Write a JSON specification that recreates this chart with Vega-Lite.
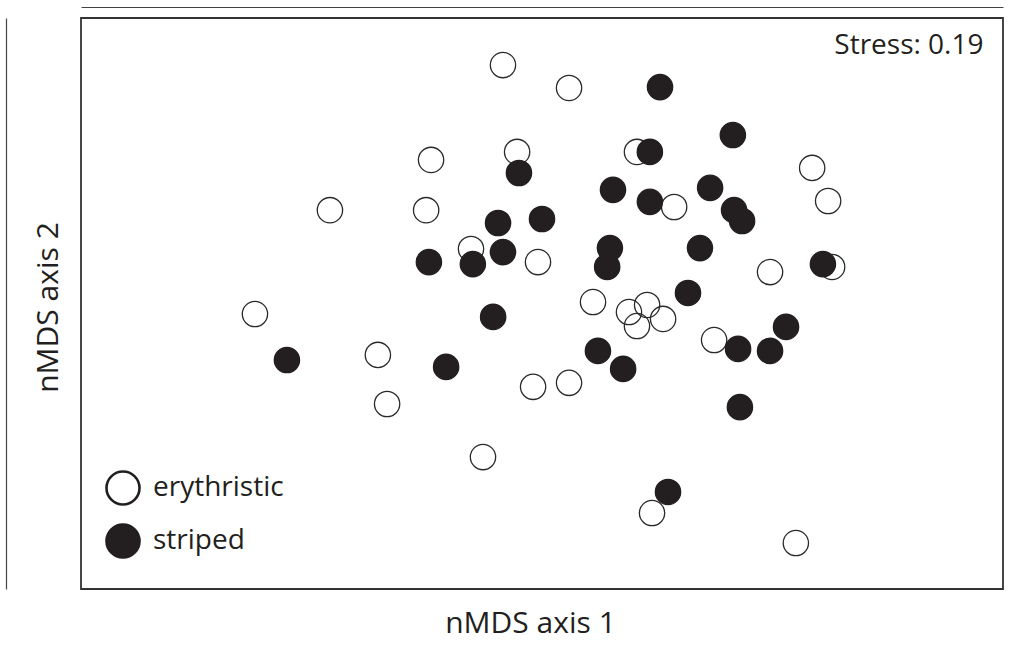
{
  "$schema": "https://vega.github.io/schema/vega-lite/v6.json",
  "autosize": {"type": "none"},
  "width": 922,
  "height": 571,
  "padding": {"left": 81, "top": 18, "right": 13, "bottom": 68},
  "background": "white",
  "config": {
    "view": {"stroke": "#333333", "strokeWidth": 1.8},
    "font": "Open Sans",
    "axis": {"titleFont": "Open Sans", "titleFontWeight": "normal", "titleColor": "#231f20", "grid": false, "ticks": false, "labels": false}
  },
  "data": {
    "values": [
      {"x": -0.127, "y": 0.835, "group": "erythristic"},
      {"x": 0.088, "y": 0.755, "group": "erythristic"},
      {"x": -0.361, "y": 0.503, "group": "erythristic"},
      {"x": -0.081, "y": 0.531, "group": "erythristic"},
      {"x": 0.309, "y": 0.531, "group": "erythristic"},
      {"x": -0.690, "y": 0.327, "group": "erythristic"},
      {"x": -0.377, "y": 0.327, "group": "erythristic"},
      {"x": 0.430, "y": 0.338, "group": "erythristic"},
      {"x": 0.879, "y": 0.475, "group": "erythristic"},
      {"x": 0.931, "y": 0.359, "group": "erythristic"},
      {"x": -0.231, "y": 0.191, "group": "erythristic"},
      {"x": -0.013, "y": 0.145, "group": "erythristic"},
      {"x": 0.742, "y": 0.110, "group": "erythristic"},
      {"x": 0.944, "y": 0.128, "group": "erythristic"},
      {"x": -0.934, "y": -0.037, "group": "erythristic"},
      {"x": 0.166, "y": 0.005, "group": "erythristic"},
      {"x": 0.342, "y": -0.005, "group": "erythristic"},
      {"x": 0.283, "y": -0.030, "group": "erythristic"},
      {"x": 0.309, "y": -0.079, "group": "erythristic"},
      {"x": 0.394, "y": -0.054, "group": "erythristic"},
      {"x": 0.560, "y": -0.128, "group": "erythristic"},
      {"x": -0.534, "y": -0.180, "group": "erythristic"},
      {"x": -0.029, "y": -0.292, "group": "erythristic"},
      {"x": 0.088, "y": -0.278, "group": "erythristic"},
      {"x": -0.504, "y": -0.352, "group": "erythristic"},
      {"x": -0.192, "y": -0.538, "group": "erythristic"},
      {"x": 0.358, "y": -0.734, "group": "erythristic"},
      {"x": 0.826, "y": -0.839, "group": "erythristic"},
      {"x": 0.384, "y": 0.758, "group": "striped"},
      {"x": 0.621, "y": 0.590, "group": "striped"},
      {"x": 0.351, "y": 0.531, "group": "striped"},
      {"x": -0.075, "y": 0.457, "group": "striped"},
      {"x": 0.231, "y": 0.398, "group": "striped"},
      {"x": 0.351, "y": 0.356, "group": "striped"},
      {"x": 0.547, "y": 0.405, "group": "striped"},
      {"x": 0.625, "y": 0.327, "group": "striped"},
      {"x": 0.651, "y": 0.289, "group": "striped"},
      {"x": -0.143, "y": 0.282, "group": "striped"},
      {"x": 0.000, "y": 0.296, "group": "striped"},
      {"x": 0.221, "y": 0.194, "group": "striped"},
      {"x": 0.212, "y": 0.128, "group": "striped"},
      {"x": 0.514, "y": 0.194, "group": "striped"},
      {"x": -0.368, "y": 0.145, "group": "striped"},
      {"x": -0.225, "y": 0.138, "group": "striped"},
      {"x": -0.127, "y": 0.180, "group": "striped"},
      {"x": 0.914, "y": 0.138, "group": "striped"},
      {"x": 0.475, "y": 0.037, "group": "striped"},
      {"x": -0.159, "y": -0.047, "group": "striped"},
      {"x": 0.794, "y": -0.082, "group": "striped"},
      {"x": 0.182, "y": -0.166, "group": "striped"},
      {"x": 0.638, "y": -0.159, "group": "striped"},
      {"x": 0.742, "y": -0.166, "group": "striped"},
      {"x": -0.830, "y": -0.198, "group": "striped"},
      {"x": -0.312, "y": -0.222, "group": "striped"},
      {"x": 0.264, "y": -0.229, "group": "striped"},
      {"x": 0.644, "y": -0.363, "group": "striped"},
      {"x": 0.410, "y": -0.660, "group": "striped"}
    ]
  },
  "resolve": {"axis": {"x": "independent", "y": "independent"}},
  "layer": [
    {
      "transform": [{"filter": "datum.group === 'erythristic'"}],
      "mark": {"type": "point", "shape": "circle", "filled": true, "size": 640, "stroke": "#2a2a2a", "strokeWidth": 1.3, "opacity": 1},
      "encoding": {
        "x": {"field": "x", "type": "quantitative", "scale": {"domain": [-1.5, 1.5], "nice": false, "zero": false},
          "axis": {"orient": "bottom", "domain": false, "title": "nMDS axis 1", "titleFontSize": 30, "titleX": 449, "titleY": 43, "titleAlign": "center", "titleBaseline": "alphabetic"}},
        "y": {"field": "y", "type": "quantitative", "scale": {"domain": [-1, 1], "nice": false, "zero": false},
          "axis": {"orient": "left", "offset": 75, "domain": true, "domainColor": "#444444", "domainWidth": 1.2, "title": "nMDS axis 2", "titleFontSize": 30, "titleX": 51, "titleY": 289, "titleAlign": "center", "titleBaseline": "alphabetic", "titleAngle": 270}},
        "fill": {"field": "group", "type": "nominal",
          "scale": {"domain": ["erythristic", "striped"], "range": ["rgba(255,255,255,0)", "#231f20"]},
          "legend": {"orient": "none", "legendX": 24, "legendY": 452, "title": null, "padding": 0, "symbolType": "circle", "symbolSize": 1089, "symbolStrokeWidth": 2.6, "symbolStrokeColor": "#231f20", "labelFont": "Open Sans", "labelFontSize": 28, "labelColor": "#231f20", "labelOffset": 12, "rowPadding": 9}}
      }
    },
    {
      "transform": [{"filter": "datum.group === 'striped'"}],
      "mark": {"type": "point", "shape": "circle", "filled": true, "size": 640, "stroke": "#231f20", "strokeWidth": 1.3, "opacity": 1},
      "encoding": {
        "x": {"field": "x", "type": "quantitative",
          "axis": {"orient": "top", "offset": 11, "domain": true, "domainColor": "#444444", "domainWidth": 1.2, "title": "Stress: 0.19", "titleFontSize": 28, "titleX": 902, "titleY": 46, "titleAlign": "right", "titleBaseline": "alphabetic"}},
        "y": {"field": "y", "type": "quantitative", "axis": null},
        "fill": {"field": "group", "type": "nominal"}
      }
    }
  ]
}
